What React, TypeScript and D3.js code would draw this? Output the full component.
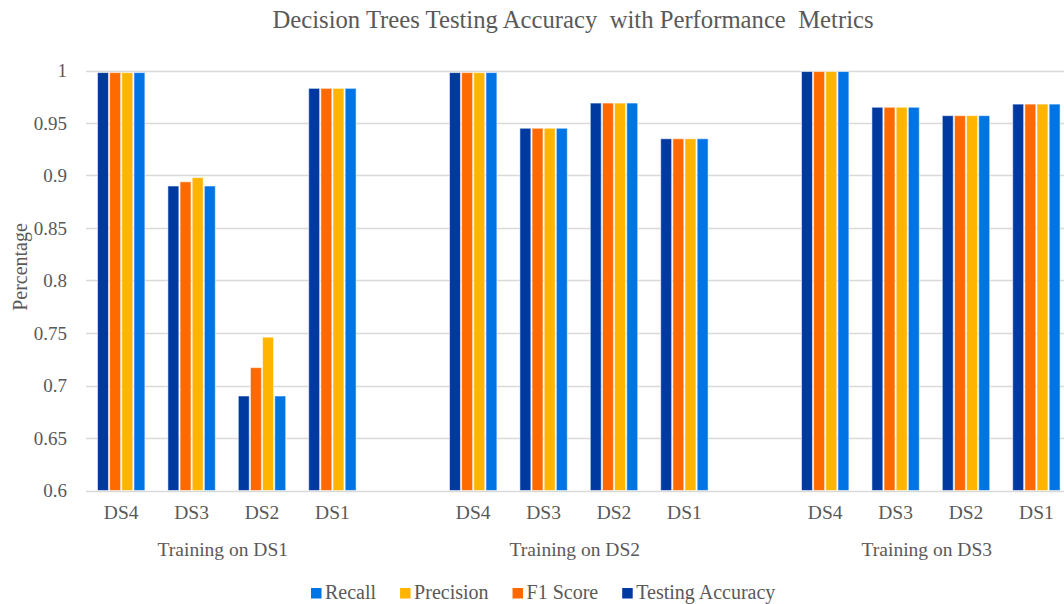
import React, { useEffect, useRef } from "react";
import * as d3 from "d3";

const title = "Decision Trees Testing Accuracy  with Performance  Metrics";
const yTitle = "Percentage";
const trainingSets = ["Training on DS1", "Training on DS2", "Training on DS3"];
const testSets = ["DS4", "DS3", "DS2", "DS1"];
const seriesNames = ["Testing Accuracy", "F1 Score", "Precision", "Recall"];
const legendOrder = ["Recall", "Precision", "F1 Score", "Testing Accuracy"];
const yTicks = [0.6, 0.65, 0.7, 0.75, 0.8, 0.85, 0.9, 0.95, 1];

const testingAccuracy = [0.998, 0.89, 0.69, 0.983, 0.998, 0.945, 0.969, 0.935, 0.999, 0.965, 0.957, 0.968];
const f1Score = [0.998, 0.894, 0.717, 0.983, 0.998, 0.945, 0.969, 0.935, 0.999, 0.965, 0.957, 0.968];
const precision = [0.998, 0.898, 0.746, 0.983, 0.998, 0.945, 0.969, 0.935, 0.999, 0.965, 0.957, 0.968];
const recall = [0.998, 0.89, 0.69, 0.983, 0.998, 0.945, 0.969, 0.935, 0.999, 0.965, 0.957, 0.968];

const seriesValues: Record<string, number[]> = {
  "Testing Accuracy": testingAccuracy,
  "F1 Score": f1Score,
  "Precision": precision,
  "Recall": recall,
};
const colors: Record<string, string> = {
  "Testing Accuracy": "#0039A0",
  "F1 Score": "#FF6A00",
  "Precision": "#FFB400",
  "Recall": "#0074E4",
};

const W = 1064;
const H = 604;
const FONT = "'Liberation Serif', 'Times New Roman', serif";
const TEXT = "#595959";

export default function App() {
  const ref = useRef<SVGSVGElement>(null);

  useEffect(() => {
    const svg = d3.select(ref.current);
    svg.selectAll("*").remove();

    // slots: 4 test sets per training set, one blank slot between groups
    const slots: string[] = [];
    trainingSets.forEach((t, g) => {
      testSets.forEach((s) => slots.push(`${t}|${s}`));
      slots.push(`gap${g}`);
    });

    const x = d3.scaleBand<string>().domain(slots).range([86, 86 + 70.4 * slots.length]).padding(0);
    const y = d3.scaleLinear().domain([0.6, 1]).range([490.5, 70.5]);
    const inner = 48.6;
    const xs = d3.scaleBand<string>().domain(seriesNames).range([0, inner]).padding(0);

    // gridlines
    svg.append("g")
      .selectAll("line")
      .data(yTicks)
      .join("line")
      .attr("x1", 86)
      .attr("x2", W)
      .attr("y1", (d) => Math.round(y(d)) + 0.5)
      .attr("y2", (d) => Math.round(y(d)) + 0.5)
      .attr("stroke", "#D9D9D9")
      .attr("stroke-width", 1.3);

    // y tick labels
    svg.append("g")
      .selectAll("text")
      .data(yTicks)
      .join("text")
      .attr("x", 67)
      .attr("y", (d) => y(d) + 6.5)
      .attr("text-anchor", "end")
      .attr("font-family", FONT)
      .attr("font-size", 19)
      .attr("fill", TEXT)
      .text((d) => d3.format("")(d));

    // bars
    const items: { key: string; series: string; value: number }[] = [];
    trainingSets.forEach((t, g) => {
      testSets.forEach((s, j) => {
        seriesNames.forEach((sn) => {
          items.push({ key: `${t}|${s}`, series: sn, value: seriesValues[sn][g * testSets.length + j] });
        });
      });
    });

    svg.append("g")
      .selectAll("rect")
      .data(items)
      .join("rect")
      .attr("x", (d) => (x(d.key) as number) + (x.bandwidth() - inner) / 2 + (xs(d.series) as number) + 0.6)
      .attr("width", xs.bandwidth() - 1.2)
      .attr("y", (d) => y(d.value))
      .attr("height", (d) => y(0.6) - y(d.value))
      .attr("fill", (d) => colors[d.series])
      .attr("stroke", "rgba(255,255,255,0.55)")
      .attr("stroke-width", 1);

    // category labels
    const cats: { key: string; label: string }[] = [];
    trainingSets.forEach((t) => testSets.forEach((s) => cats.push({ key: `${t}|${s}`, label: s })));
    svg.append("g")
      .selectAll("text")
      .data(cats)
      .join("text")
      .attr("x", (d) => (x(d.key) as number) + x.bandwidth() / 2)
      .attr("y", 519)
      .attr("text-anchor", "middle")
      .attr("font-family", FONT)
      .attr("font-size", 19.5)
      .attr("fill", TEXT)
      .text((d) => d.label);

    // group labels
    svg.append("g")
      .selectAll("text")
      .data(trainingSets)
      .join("text")
      .attr("x", (t) => {
        const a = x(`${t}|${testSets[0]}`) as number;
        const b = (x(`${t}|${testSets[testSets.length - 1]}`) as number) + x.bandwidth();
        return (a + b) / 2 - 4;
      })
      .attr("y", 556)
      .attr("text-anchor", "middle")
      .attr("font-family", FONT)
      .attr("font-size", 19.5)
      .attr("fill", TEXT)
      .text((t) => t);

    // title
    svg.append("text")
      .attr("x", 573)
      .attr("y", 28)
      .attr("text-anchor", "middle")
      .attr("font-family", FONT)
      .attr("font-size", 24.7)
      .attr("fill", TEXT)
      .style("white-space", "pre")
      .text(title);

    // y title
    svg.append("text")
      .attr("transform", "translate(27,267) rotate(-90)")
      .attr("text-anchor", "middle")
      .attr("font-family", FONT)
      .attr("font-size", 20)
      .attr("fill", TEXT)
      .text(yTitle);

    // legend
    const lg = svg.append("g");
    let lx = 311;
    legendOrder.forEach((name) => {
      lg.append("rect")
        .attr("x", lx)
        .attr("y", 588)
        .attr("width", 10.5)
        .attr("height", 10.5)
        .attr("fill", colors[name]);
      const t = lg.append("text")
        .attr("x", lx + 14)
        .attr("y", 599)
        .attr("font-family", FONT)
        .attr("font-size", 20)
        .attr("fill", TEXT)
        .text(name);
      const w = (t.node() as SVGTextElement).getComputedTextLength();
      lx = lx + 14 + w + 24;
    });
  }, []);

  return (
    <svg
      ref={ref}
      width={W}
      height={H}
      style={{ position: "absolute", left: 0, top: 0, background: "#fff" }}
    />
  );
}
